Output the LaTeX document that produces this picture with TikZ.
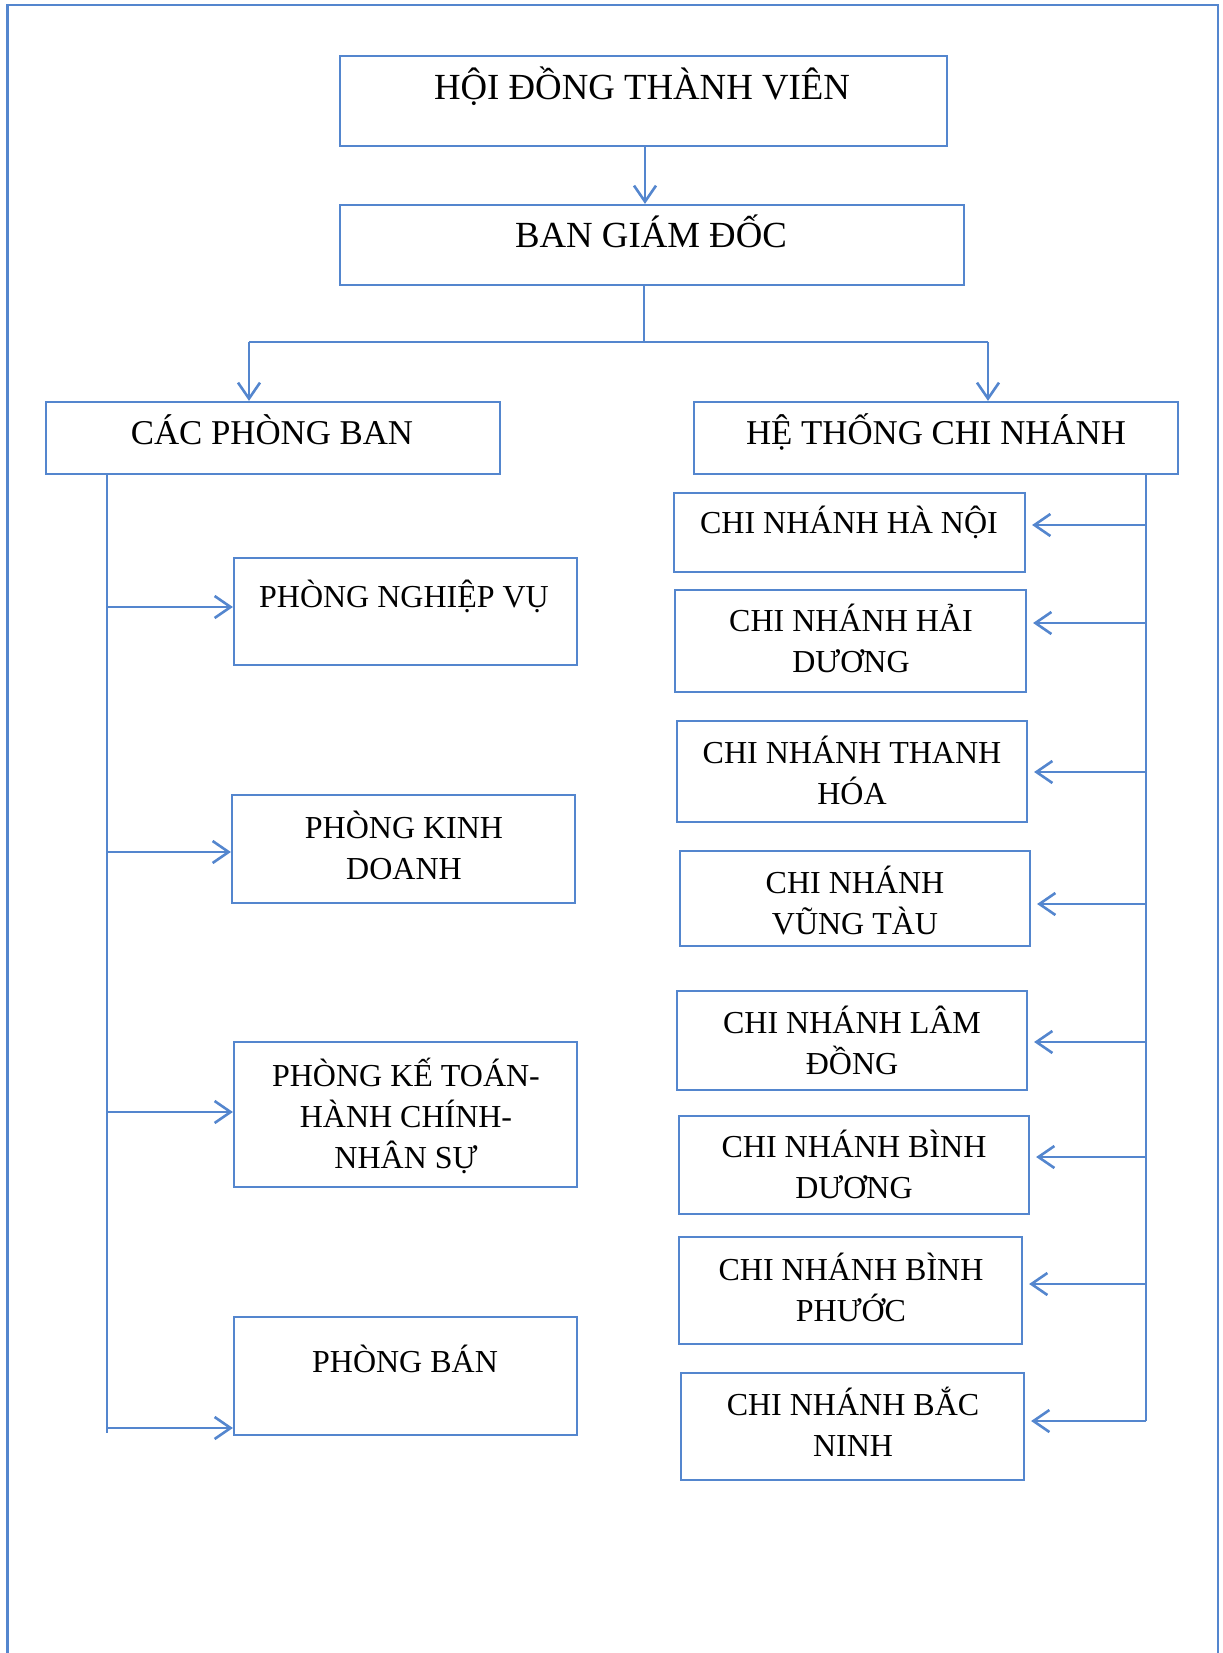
\documentclass[tikz,border=0pt]{standalone}
\usepackage{fontspec}
\setmainfont{Liberation Serif}
\usetikzlibrary{arrows.meta}
\definecolor{lineblue}{RGB}{84,134,206}
\tikzset{
  box/.style={draw=lineblue, line width=1.1pt, inner sep=0pt, fill=white},
  txt/.style={anchor=base, inner sep=0pt, align=center, font=\fontsize{16}{20.5}\selectfont},
  ttl/.style={anchor=base, inner sep=0pt, font=\fontsize{18.4}{22}\selectfont},
  ttls/.style={anchor=base, inner sep=0pt, font=\fontsize{17.4}{22}\selectfont},
  conn/.style={draw=lineblue, line width=1.3pt},
  arr/.style={conn, -{Straight Barb[length=8pt,width=11pt,line width=1.3pt]}},
  arrg/.style={arr, shorten >=3pt}
}
\newcommand{\bx}[5]{\node[box, minimum width=#4*0.5pt, minimum height=#5*0.5pt] (#1) at (#2,#3) {};}
\begin{document}
\begin{tikzpicture}[x=0.5pt,y=-0.5pt]
\useasboundingbox (0,0) rectangle (1222,1653);
% outer frame
\draw[draw=lineblue, line width=1.4pt] (7.5,1653) -- (7.5,5) -- (1218,5) -- (1218,1653);
% boxes
\bx{hdtv}{643.5}{101}{607}{90}
\bx{bgd}{652}{245}{624}{80}
\bx{cpb}{273}{438}{454}{72}
\bx{htcn}{936}{438}{484}{72}
\bx{pnv}{405.5}{611.5}{343}{107}
\bx{pkd}{403.5}{849}{343}{108}
\bx{pkt}{405.5}{1114.5}{343}{145}
\bx{pb}{405.5}{1376}{343}{118}
\bx{hn}{849.5}{532.5}{351}{79}
\bx{hd}{850.5}{641}{351}{102}
\bx{th}{852}{771.5}{350}{101}
\bx{vt}{855}{898.5}{350}{95}
\bx{ld}{852}{1040.5}{350}{99}
\bx{bd}{854}{1165}{350}{98}
\bx{bp}{850.5}{1290.5}{343}{107}
\bx{bn}{852.5}{1426.5}{343}{107}
% texts (anchor=base is the baseline of the last line)
\node[ttl] (thdtv) at (642,100) {HỘI ĐỒNG THÀNH VIÊN};
\node[ttl] (tbgd) at (651,248) {BAN GIÁM ĐỐC};
\node[ttls] (tcpb) at (272,444) {CÁC PHÒNG BAN};
\node[ttls] (thtcn) at (936,444) {HỆ THỐNG CHI NHÁNH};
\node[txt] (tpnv) at (404,607) {PHÒNG NGHIỆP VỤ};
\node[txt] (tpkd) at (404,879) {PHÒNG KINH\\DOANH};
\node[txt] (tpkt) at (406,1168) {PHÒNG KẾ TOÁN-\\HÀNH CHÍNH-\\NHÂN SỰ};
\node[txt] (tpb) at (405,1372) {PHÒNG BÁN};
\node[txt] (thn) at (849,533) {CHI NHÁNH HÀ NỘI};
\node[txt] (thd) at (851,672) {CHI NHÁNH HẢI\\DƯƠNG};
\node[txt] (tth) at (852,804) {CHI NHÁNH THANH\\HÓA};
\node[txt] (tvt) at (855,934) {CHI NHÁNH\\VŨNG TÀU};
\node[txt] (tld) at (852,1074) {CHI NHÁNH LÂM\\ĐỒNG};
\node[txt] (tbd) at (854,1198) {CHI NHÁNH BÌNH\\DƯƠNG};
\node[txt] (tbp) at (851,1321) {CHI NHÁNH BÌNH\\PHƯỚC};
\node[txt] (tbn) at (853,1456) {CHI NHÁNH BẮC\\NINH};
% top connectors
\coordinate (a) at (645,146);
\draw[arr] (a) -- (a |- bgd.north);
\coordinate (j) at (644,342);
\coordinate (jl) at (249,342);
\coordinate (jr) at (988,342);
\draw[conn] (j |- bgd.south) -- (j);
\draw[conn] (jl) -- (jr);
\draw[arr] (jl) -- (jl |- cpb.north);
\draw[arr] (jr) -- (jr |- htcn.north);
% left trunk
\coordinate (lt) at (107,474);
\coordinate (lb) at (107,1433);
\draw[conn] (lt) -- (lb);
\coordinate (l1) at (107,607);
\coordinate (l2) at (107,852);
\coordinate (l3) at (107,1112);
\coordinate (l4) at (107,1428);
\draw[arr] (l1) -- (l1 -| pnv.west);
\draw[arr] (l2) -- (l2 -| pkd.west);
\draw[arr] (l3) -- (l3 -| pkt.west);
\draw[arr] (l4) -- (l4 -| pb.west);
% right trunk
\coordinate (rt) at (1146,474);
\coordinate (rb) at (1146,1421);
\draw[conn] (rt) -- (rb);
\coordinate (r1) at (1146,525);
\coordinate (r2) at (1146,623);
\coordinate (r3) at (1146,772);
\coordinate (r4) at (1146,904);
\coordinate (r5) at (1146,1042);
\coordinate (r6) at (1146,1157);
\coordinate (r7) at (1146,1284);
\coordinate (r8) at (1146,1421);
\draw[arrg] (r1) -- (r1 -| hn.east);
\draw[arrg] (r2) -- (r2 -| hd.east);
\draw[arrg] (r3) -- (r3 -| th.east);
\draw[arrg] (r4) -- (r4 -| vt.east);
\draw[arrg] (r5) -- (r5 -| ld.east);
\draw[arrg] (r6) -- (r6 -| bd.east);
\draw[arrg] (r7) -- (r7 -| bp.east);
\draw[arrg] (r8) -- (r8 -| bn.east);
\end{tikzpicture}
\end{document}
